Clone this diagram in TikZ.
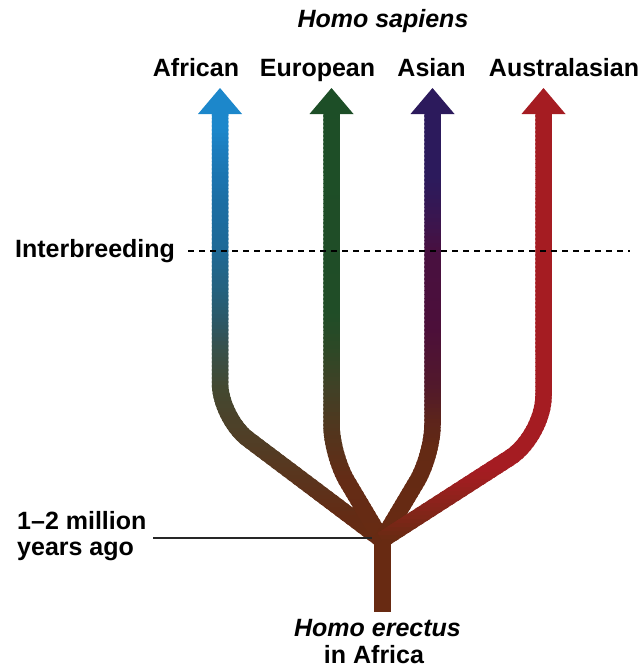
\documentclass[tikz,border=0pt]{standalone}
\usepackage{fontspec}
\setmainfont{Liberation Sans}
\definecolor{BR}{RGB}{104,42,18}
% African
\definecolor{A0}{RGB}{28,135,203}
\definecolor{A1}{RGB}{28,125,190}
\definecolor{A2}{RGB}{27,110,165}
\definecolor{A3}{RGB}{30,105,150}
\definecolor{A4}{RGB}{38,95,120}
\definecolor{A5}{RGB}{47,85,95}
\definecolor{A6}{RGB}{55,80,75}
\definecolor{A7}{RGB}{68,72,48}
\definecolor{A8}{RGB}{80,62,38}
\definecolor{A9}{RGB}{100,43,20}
% European
\definecolor{E0}{RGB}{29,78,39}
\definecolor{E1}{RGB}{32,77,39}
\definecolor{E2}{RGB}{45,72,38}
\definecolor{E3}{RGB}{65,65,38}
\definecolor{E4}{RGB}{85,52,28}
\definecolor{E5}{RGB}{100,44,22}
% Asian
\definecolor{S0}{RGB}{44,26,92}
\definecolor{S1}{RGB}{50,24,86}
\definecolor{S2}{RGB}{62,20,75}
\definecolor{S3}{RGB}{72,16,64}
\definecolor{S4}{RGB}{76,15,58}
\definecolor{S5}{RGB}{82,25,42}
\definecolor{S6}{RGB}{92,36,28}
\definecolor{S7}{RGB}{100,42,20}
% Australasian
\definecolor{R0}{RGB}{165,28,34}
\definecolor{R1}{RGB}{160,30,32}
\definecolor{R2}{RGB}{125,38,24}
\newcommand\labfont{\fontsize{25}{28}\selectfont\bfseries}
\tikzset{
  branch/.style={line width=16.5pt, line cap=butt, line join=round},
  lab/.style={font=\labfont, anchor=base, inner sep=0pt, text=black},
  dashline/.style={line width=2.8pt, dash pattern=on 6pt off 5pt, draw=black},
  leader/.style={line width=1.3pt, draw=black!85},
  trunk/.style={line width=17pt, draw=BR, line cap=butt},
}
% #1 branch letter, #2 colour stops (y top / y bottom / colour top / colour bottom)
\newcommand\gradbranch[2]{%
  \foreach \ya/\yb/\ca/\cb in {#2} {%
    \pgfmathtruncatemacro\nn{max(1,ceil((\yb-\ya)/4))}%
    \pgfmathsetmacro\st{(\yb-\ya)/\nn}%
    \foreach \k in {1,...,\nn} {%
      \pgfmathsetmacro\ylo{\ya+(\k-1)*\st}%
      \pgfmathsetmacro\yhi{\ylo+\st}%
      \pgfmathsetmacro\pp{100*(\k-0.5)/\nn}%
      \colorlet{bandcol}{\cb!\pp!\ca}%
      \begin{scope}
        \clip (0,\ylo-0.4) rectangle (643,\yhi+0.4);
        \draw[branch, draw=bandcol] (J) -- (p#1) .. controls (k#1) and (m#1) .. (q#1) -- (b#1);
      \end{scope}
    }%
  }%
}
\begin{document}
\begin{tikzpicture}[x=1pt,y=-1pt]
\useasboundingbox (0,0) rectangle (643,669);
% key points
\coordinate (J) at (382,540);
\coordinate (trTop) at (382,528);
\coordinate (trBot) at (382,612);
% African
\coordinate (pA) at (248,439.1); \coordinate (kA) at (232.6,427.5);
\coordinate (mA) at (220,402.3); \coordinate (qA) at (220,383); \coordinate (bA) at (220,113);
% European
\coordinate (pE) at (346.8,480.8); \coordinate (kE) at (338.4,466.6);
\coordinate (mE) at (331.5,441.5); \coordinate (qE) at (331.5,425); \coordinate (bE) at (331.5,113);
% Asian
\coordinate (pS) at (417.2,480.8); \coordinate (kS) at (425.6,466.6);
\coordinate (mS) at (432.5,441.5); \coordinate (qS) at (432.5,425); \coordinate (bS) at (432.5,113);
% Australasian
\coordinate (pR) at (509.9,457.7); \coordinate (kR) at (528.4,445.8);
\coordinate (mR) at (543.5,418); \coordinate (qR) at (543.5,396); \coordinate (bR) at (543.5,113);
% trunk
\draw[trunk] (trTop) -- (trBot);
% branches
\gradbranch{A}{80/130/A0/A0, 130/150/A0/A1, 150/200/A1/A2, 200/251/A2/A3, 251/300/A3/A4, 300/330/A4/A5, 330/350/A5/A6, 350/390/A6/A7, 390/440/A7/A8, 440/520/A8/A9, 520/552/A9/BR}
\gradbranch{E}{80/315/E0/E1, 315/350/E1/E2, 350/390/E2/E3, 390/440/E3/E4, 440/480/E4/E5, 480/552/E5/BR}
\gradbranch{S}{80/180/S0/S0, 180/200/S0/S1, 200/230/S1/S2, 230/251/S2/S3, 251/330/S3/S4, 330/390/S4/S5, 390/420/S5/S6, 420/450/S6/S7, 450/552/S7/BR}
\gradbranch{R}{80/470/R0/R0, 470/480/R0/R1, 480/520/R1/R2, 520/540/R2/BR, 540/552/BR/BR}
% arrowheads
\fill[A0] (198,114) -- (220,88) -- (242,114) -- cycle;
\fill[E0] (309.5,114) -- (331.5,88) -- (353.5,114) -- cycle;
\fill[S0] (410.5,114) -- (432.5,88) -- (454.5,114) -- cycle;
\fill[R0] (521.5,114) -- (543.5,88) -- (565.5,114) -- cycle;
% interbreeding line
\coordinate (dS) at (188,251);
\coordinate (dE) at (630,251);
\draw[dashline] (dS) -- (dE);
% leader
\coordinate (lS) at (153,538);
\coordinate (lE) at (372,538);
\draw[leader] (lS) -- (lE);
% labels
\node[lab] (hs) at (383,28) {\itshape Homo sapiens};
\node[lab] (afr) at (196,77) {African};
\node[lab] (eur) at (317.5,77) {European};
\node[lab] (asi) at (431.5,77) {Asian};
\node[lab] (aus) at (564,77) {Australasian};
\node[lab, anchor=base west] (inter) at (15,257) {Interbreeding};
\node[lab, anchor=base west] (mya1) at (17,529) {1–2 million};
\node[lab, anchor=base west] (mya2) at (17,555) {years ago};
\node[lab] (he) at (377.5,636) {\itshape Homo erectus};
\node[lab] (ia) at (374,663) {in Africa};
\end{tikzpicture}
\end{document}
